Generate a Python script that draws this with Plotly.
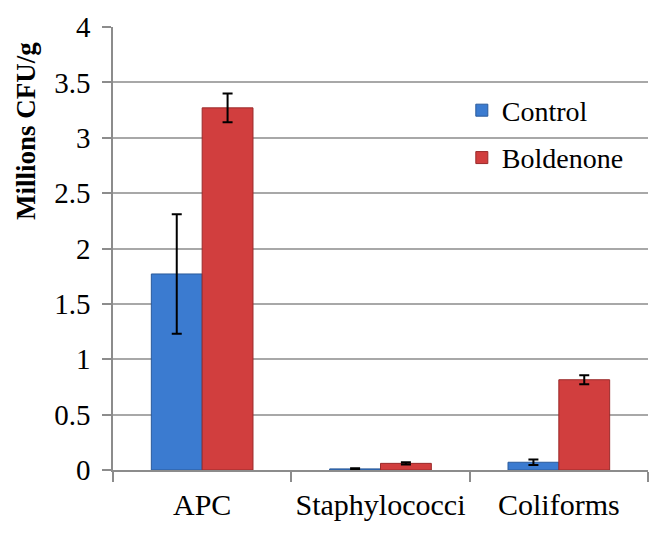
import plotly.graph_objects as go

categories = ["APC", "Staphylococci", "Coliforms"]
control = [1.77, 0.01, 0.07]
control_err = [0.54, 0.005, 0.025]
boldenone = [3.27, 0.06, 0.815]
boldenone_err = [0.13, 0.01, 0.04]
yticks = [0, 0.5, 1, 1.5, 2, 2.5, 3, 3.5, 4]
ytick_text = ["0", "0.5", "1", "1.5", "2", "2.5", "3", "3.5", "4"]

FONT = "Liberation Serif"

fig = go.Figure()
fig.add_trace(go.Bar(
    name="Control", x=categories, y=control,
    marker=dict(color="#3b7bd0", line=dict(color="#2a5a9a", width=1)),
    error_y=dict(type="data", array=control_err, color="black", thickness=2, width=5),
    legendgroup="a",
))
fig.add_trace(go.Bar(
    name="Boldenone", x=categories, y=boldenone,
    marker=dict(color="#d13e3e", line=dict(color="#9a2a2a", width=1)),
    error_y=dict(type="data", array=boldenone_err, color="black", thickness=2, width=5),
    legendgroup="b",
))

# page body has an 8px margin, so margins are offset to land the plot area
fig.update_layout(
    width=664, height=537,
    margin=dict(l=105, r=24, t=19, b=75, autoexpand=False),
    paper_bgcolor="white", plot_bgcolor="white",
    font=dict(family=FONT, size=28, color="black"),
    barmode="group", bargap=0.43, bargroupgap=0,
    showlegend=True,
    legend=dict(x=0.652, y=0.868, xanchor="left", yanchor="top",
                font=dict(family=FONT, size=28, color="black"),
                traceorder="grouped", tracegroupgap=8,
                bgcolor="rgba(0,0,0,0)"),
    annotations=[dict(
        text="<b>Millions CFU/g</b>", textangle=-90,
        xref="paper", yref="paper", x=-0.163, y=0.765,
        xanchor="center", yanchor="middle", showarrow=False,
        font=dict(family=FONT, size=27, color="black"),
    )],
)
fig.update_yaxes(
    range=[0, 4], tickvals=yticks, ticktext=ytick_text,
    showgrid=True, gridcolor="#a8a8a8", gridwidth=1.5,
    showline=True, linecolor="#8c8c8c", linewidth=1.5,
    ticks="outside", ticklen=9, tickcolor="#8c8c8c", tickwidth=1.5,
    ticklabelstandoff=6, automargin=False,
    zeroline=False, tickfont=dict(family=FONT, size=29),
)
fig.update_xaxes(
    showline=True, linecolor="#8c8c8c", linewidth=1.5,
    ticks="outside", tickson="boundaries", ticklen=10,
    tickcolor="#8c8c8c", tickwidth=1.5, tickangle=0, automargin=False,
    ticklabelstandoff=7,
    tickfont=dict(family=FONT, size=30),
)

fig.write_html("out.html")
